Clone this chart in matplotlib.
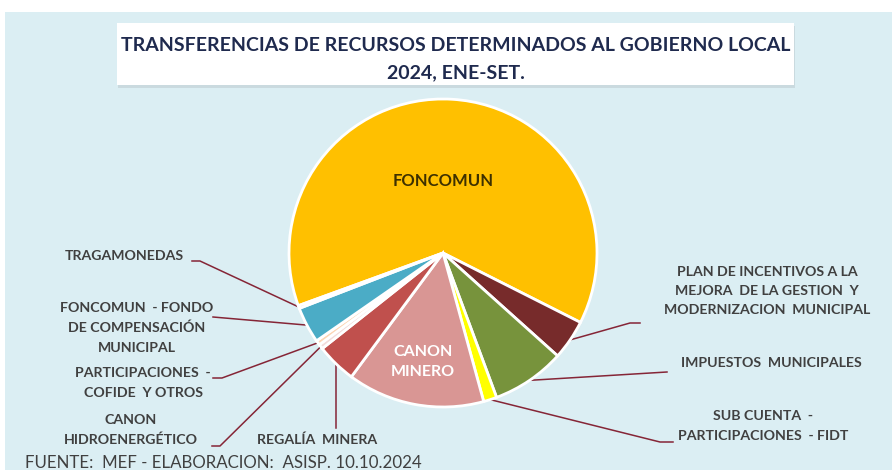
import numpy as np
import matplotlib.pyplot as plt
from matplotlib.patches import Rectangle

# ============================================================================
# DATA (participación estimada, %)
# ============================================================================
categorias = [
    'FONCOMUN',
    'PLAN DE INCENTIVOS A LA\nMEJORA  DE LA GESTION  Y\nMODERNIZACION  MUNICIPAL',
    'IMPUESTOS  MUNICIPALES',
    'SUB CUENTA  -\nPARTICIPACIONES  - FIDT',
    'CANON\nMINERO',
    'REGALÍA  MINERA',
    'CANON\nHIDROENERGÉTICO',
    'PARTICIPACIONES  -\nCOFIDE  Y OTROS',
    'FONCOMUN  - FONDO\nDE COMPENSACIÓN\nMUNICIPAL',
    'TRAGAMONEDAS',
]
valores = [63.0, 4.2, 7.7, 1.4, 14.4, 4.2, 0.5, 0.5, 3.8, 0.3]
colores = ['#FFC000', '#772B2B', '#77933C', '#FFFF00', '#D99694',
           '#C0504D', '#F2DCDB', '#FCD5B4', '#4BACC6', '#8064A2']

titulo = 'TRANSFERENCIAS DE RECURSOS DETERMINADOS AL GOBIERNO LOCAL\n2024, ENE-SET.'
fuente = 'FUENTE:  MEF - ELABORACION:  ASISP. 10.10.2024'

# ============================================================================
# FIGURE (pixel-like coordinates)
# ============================================================================
W, H = 892, 470
fig = plt.figure(figsize=(W / 100, H / 100), dpi=100)
fig.patch.set_facecolor('white')
ax = fig.add_axes([0, 0, 1, 1])


def py(y):
    return H - y


# Background panel
ax.add_patch(Rectangle((5, 0), W - 5, H - 12, facecolor='#DBEEF3', edgecolor='none', zorder=0))

# Title box
ax.add_patch(Rectangle((118, py(88)), 677, 62, facecolor='#CADADF', edgecolor='none', zorder=1))
ax.add_patch(Rectangle((117, py(85)), 677, 62, facecolor='white', edgecolor='none', zorder=2))
ax.text(456, py(59), titulo, ha='center', va='center', fontsize=14, fontweight='bold',
        family='Lato', color='#1F2A4E', linespacing=1.75, zorder=3)

# ============================================================================
# PIE
# ============================================================================
cx, cy, R = 443, py(253), 154
wedges, _ = ax.pie(valores, colors=colores, startangle=200, counterclock=False,
                   center=(cx, cy), radius=R,
                   wedgeprops=dict(edgecolor='white', linewidth=2))
for w in wedges:
    w.set_zorder(3)

ax.set_xlim(0, W)
ax.set_ylim(0, H)
ax.set_aspect('equal')
ax.axis('off')


def punto(i, frac):
    w = wedges[i]
    ang = np.deg2rad((w.theta1 + w.theta2) / 2)
    return cx + frac * R * np.cos(ang), cy + frac * R * np.sin(ang)


# Inside labels
x0, y0 = punto(0, 0.47)
ax.text(x0 - 4, y0, categorias[0], ha='center', va='center', fontsize=12, fontweight='bold',
        family='Lato', color='#3D3000', zorder=4)
x4, y4 = punto(4, 0.72)
ax.text(x4, y4, categorias[4], ha='center', va='center', fontsize=11.5, fontweight='bold',
        family='Lato', color='white', linespacing=1.5, zorder=4)

# Outside labels: (index, text position, leader start, leader knee)
externas = [
    (9, (124, 256), (192, 261), (200, 261)),
    (8, (137, 328), (213, 317), (213, 317)),
    (7, (143, 383), (213, 378), (222, 378)),
    (6, (131, 430), (212, 446), (220, 446)),
    (5, (317, 440), None, None),
    (1, (767, 291), (640, 323), (630, 323)),
    (2, (771, 363), (667, 372), (667, 372)),
    (3, (763, 426), (673, 442), (660, 442)),
]
linea = '#852536'
for i, (tx, tyy), ini, codo in externas:
    ax.text(tx, py(tyy), categorias[i], ha='center', va='center', fontsize=10.2, fontweight='bold',
            family='Lato', color='#404040', linespacing=1.75, zorder=4)
    ax_, ay_ = punto(i, 1.0)
    if ini is None:
        xs, ys = [ax_, ax_], [py(428), ay_]
    else:
        xs = [ini[0], codo[0], ax_]
        ys = [py(ini[1]), py(codo[1]), ay_]
    ax.plot(xs, ys, color=linea, lw=1.1, zorder=2)

# Footer
ax.text(25, py(463), fuente, ha='left', va='center', fontsize=12.2, family='Lato',
        color='#404040', zorder=4)

fig.savefig('out.png', dpi=100, facecolor=fig.get_facecolor())
